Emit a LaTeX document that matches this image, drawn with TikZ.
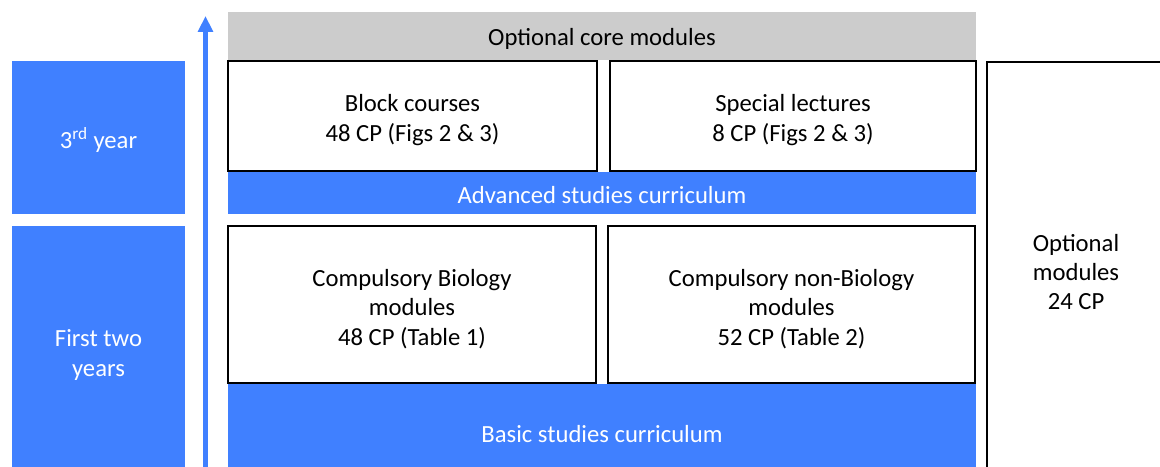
\documentclass[tikz,border=0pt]{standalone}
\usepackage{fontspec}
\setmainfont{Carlito}
\usetikzlibrary{arrows.meta}
\definecolor{curblue}{RGB}{64,128,255}
\definecolor{coregray}{RGB}{204,204,204}
\tikzset{
  bluebar/.style={fill=curblue,draw=none},
  graybar/.style={fill=coregray,draw=none},
  modbox/.style={draw=black,line width=1.5pt,fill=white},
  wtext/.style={text=white,align=center,font=\fontsize{18.5}{22}\selectfont},
  btext/.style={text=black,align=center,font=\fontsize{18.5}{22}\selectfont}
}
\begin{document}
\begin{tikzpicture}[x=0.75pt,y=-0.75pt]
        \useasboundingbox (0,0) rectangle (1160,467);
        \clip (0,0) rectangle (1160,467);
        
        \coordinate (tail) at (205.5,470);
        \coordinate (tip) at (205.5,16);
        % years
        \filldraw[bluebar] (12,61) rectangle (185,214);
        \filldraw[bluebar] (12,226) rectangle (185,475);
        \node[wtext] (third) at (98.5,140) {3\textsuperscript{rd} year};
        \node[wtext] (first) at (98.5,355) {First two\\years};
        \draw[curblue,line width=3.5pt,-{Triangle[width=11pt,length=12pt]}] (tail) -- (tip);
        % advanced studies
        \filldraw[graybar] (228,12) rectangle (976,60);
        \node[btext] (core) at (602,39) {Optional core modules};
        \filldraw[modbox] (228,61) rectangle (597,171);
        \filldraw[modbox] (610,61) rectangle (976,171);
        \node[btext] (block) at (412.5,120) {Block courses\\48 CP (Figs 2 \& 3)};
        \node[btext] (special) at (793,120) {Special lectures\\8 CP (Figs 2 \& 3)};
        \filldraw[bluebar] (228,172) rectangle (976,214);
        \node[wtext] (advanced) at (602,195) {Advanced studies curriculum};
        % basic studies
        \filldraw[modbox] (228,226) rectangle (596,383);
        \filldraw[modbox] (608,226) rectangle (975,383);
        \node[btext] (biology) at (412,309) {Compulsory Biology\\modules\\48 CP (Table 1)};
        \node[btext] (nonbio) at (791.5,309) {Compulsory non-Biology\\modules\\52 CP (Table 2)};
        \filldraw[bluebar] (228,384) rectangle (976,475);
        \node[wtext] (basic) at (602,434) {Basic studies curriculum};
        % optional modules
        \draw[modbox] (987,62) rectangle (1175,480);
        \node[btext] (optional) at (1076,272) {Optional\\modules\\24 CP};
    \end{tikzpicture}
\end{document}
